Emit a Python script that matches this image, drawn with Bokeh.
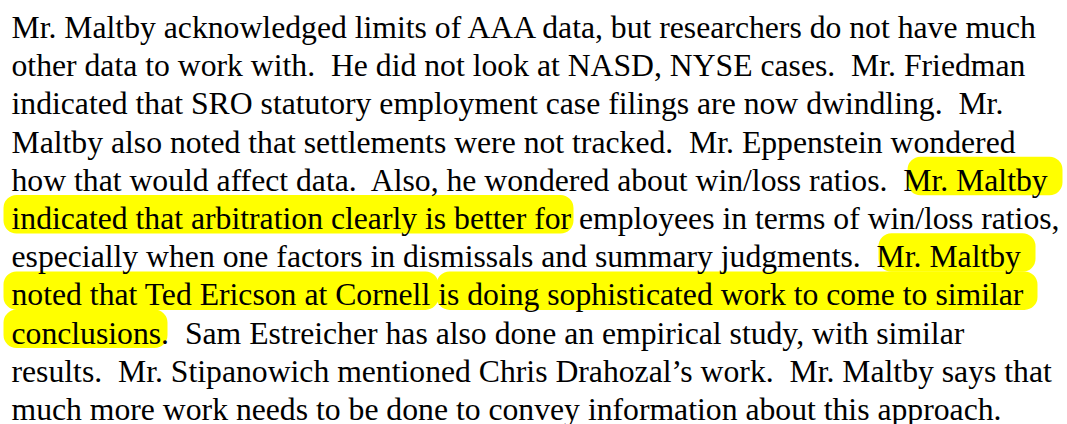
from bokeh.plotting import figure
from bokeh.models import Range1d, ColumnDataSource
from bokeh.core.properties import value
from bokeh.embed import file_html
from bokeh.resources import INLINE

# ---- data -------------------------------------------------------------
lines = [
    "Mr. Maltby acknowledged limits of AAA data, but researchers do not have much",
    "other data to work with.\u00a0 He did not look at NASD, NYSE cases.\u00a0 Mr. Friedman",
    "indicated that SRO statutory employment case filings are now dwindling.\u00a0 Mr.",
    "Maltby also noted that settlements were not tracked.\u00a0 Mr. Eppenstein wondered",
    "how that would affect data.\u00a0 Also, he wondered about win/loss ratios.\u00a0 Mr. Maltby",
    "indicated that arbitration clearly is better for employees in terms of win/loss ratios,",
    "especially when one factors in dismissals and summary judgments.\u00a0 Mr. Maltby",
    "noted that Ted Ericson at Cornell is doing sophisticated work to come to similar",
    "conclusions.\u00a0 Sam Estreicher has also done an empirical study, with similar",
    "results.\u00a0 Mr. Stipanowich mentioned Chris Drahozal\u2019s work.\u00a0 Mr. Maltby says that",
    "much more work needs to be done to convey information about this approach.",
]

# highlighted spans: line index, left and right extent (page px)
hl_line = [4, 5, 6, 7, 7, 8]
hl_x0 = [907, 3, 878, 3, 436, 3]
hl_x1 = [1062, 573, 1035, 438, 1037, 167]

# ---- layout -----------------------------------------------------------
W, H = 1067, 424
first_baseline = 35.0
line_step = 38.2
text_left = 11
text_shift = 8  # compensates the renderer drawing text below its anchor

baselines = [first_baseline + i * line_step for i in range(len(lines))]

p = figure(width=W, height=H, output_backend="svg", toolbar_location=None,
           x_range=Range1d(0, W), y_range=Range1d(H, 0),
           min_border=0, outline_line_color=None, background_fill_color="white",
           border_fill_color="white")
p.xaxis.visible = False
p.yaxis.visible = False
p.xgrid.visible = False
p.ygrid.visible = False

hl_src = ColumnDataSource(dict(
    left=hl_x0,
    right=hl_x1,
    top=[baselines[i] - 31.5 for i in hl_line],
    bottom=[baselines[i] + 7 for i in hl_line],
))
p.quad(left="left", right="right", top="top", bottom="bottom", source=hl_src,
       fill_color="#ffff00", line_color=None, border_radius=13)

txt_src = ColumnDataSource(dict(x=[text_left] * len(lines),
                                y=[b - text_shift for b in baselines], text=lines))
p.text(x="x", y="y", text="text", source=txt_src,
       text_font=value("Liberation Serif"), text_font_size=value("31.7px"),
       text_baseline="alphabetic", text_align="left", text_color="black")

open("out.html", "w").write(file_html(p, INLINE))
